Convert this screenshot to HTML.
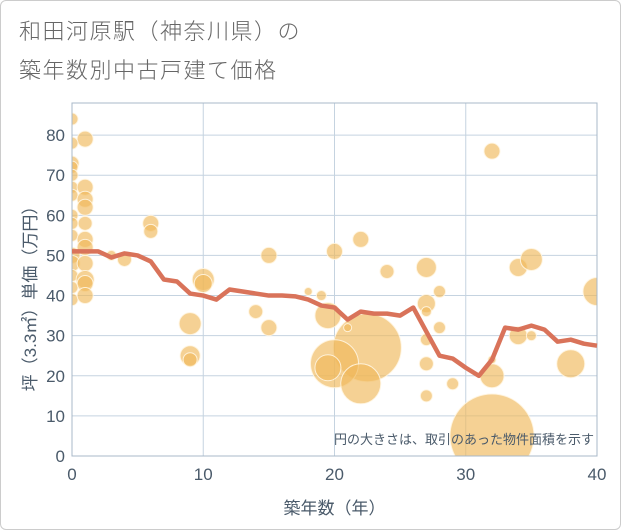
<!DOCTYPE html>
<html><head><meta charset="utf-8"><style>
body{margin:0;background:#fff;font-family:"Liberation Sans","Noto Sans CJK JP",sans-serif}
#wrap{position:relative;width:619px;height:528px;border:1px solid #ccc;border-radius:6px;overflow:hidden}
.t{position:absolute;left:18px;color:#666;font-size:22px;letter-spacing:1.5px;font-weight:300}
</style></head><body>
<div id="wrap">
<div class="t" style="top:13px">和田河原駅（神奈川県）の</div>
<div class="t" style="top:52px">築年数別中古戸建て価格</div>
<svg id="c" width="621" height="530" style="position:absolute;left:-1px;top:-1px"><defs><clipPath id="pc"><rect x="72" y="103" width="525" height="353"/></clipPath></defs></svg>
</div>
<script>
const xTicks=[0,10,20,30,40];
const yTicks=[0,10,20,30,40,50,60,70,80];
const lineYears=[0,1,2,3,4,5,6,7,8,9,10,11,12,13,14,15,16,17,18,19,20,21,22,23,24,25,26,27,28,29,30,31,32,33,34,35,36,37,38,39,40];
const lineValues=[51,51,51,49.5,50.5,50,48.5,44,43.5,40.5,40,39,41.5,41,40.5,40,40,39.8,39,37.5,37,34,36,35.5,35.5,35,37,31,25,24.3,22,20,24,32,31.5,32.5,31.5,28.5,29,28,27.5];
const bubbleX=[32,22.5,20,22,19.5,19.5,20,22,24,27,27,27,28,28,27,27,27,29,32,34,35,34,35,32,32,38,40,18,19,21,15,14,15,10,10,9,9,9,6,6,4,3,1,0,0,0,0,0,0,0,0,0,0,0,0,0,0,0,1,1,1,1,1,1,1,1,1,1];
const bubbleY=[5,27,23,18,22,35,51,54,46,47,38,36,41,32,29,23,15,18,76,47,49,30,30,20,24,23,41,41,40,32,50,36,32,44,43,33,25,24,58,56,49,50,79,84,78,73,72,70,67,65,60,58,55,50,48,45,42,39,67,64,62,58,54,52,48,44,43,40];
const bubbleR=[42,34,24,20,13,13,8,8,7,10,9,5,6,6,6,7,6,6,8,9,11,9,5,12,4,14,14,4,5,4,8,7,8,11,9,11,10,7,8,7,7,5,8,6,6,7,6,6,6,6,6,6,6,8,8,6,6,6,8,8,8,7,8,8,8,9,8,8];
const L=72,R=597,B=456,T=103,yMax=88;
const sx=v=>L+(R-L)*v/40, sy=v=>B-(B-T)*v/yMax;
const svg=document.getElementById('c'),NS='http://www.w3.org/2000/svg';
function mk(tag,at,parent){const e=document.createElementNS(NS,tag);for(const k in at)e.setAttribute(k,at[k]);(parent||svg).appendChild(e);return e;}
yTicks.forEach(v=>{
 const g=mk('line',{x1:L,x2:R,y1:sy(v),y2:sy(v),stroke:'#c5d3e0','stroke-width':1});
 
 
 const t=mk('text',{x:L-7,y:sy(v)+6,'text-anchor':'end','font-size':17,fill:'#4a5a6a'});
 t.textContent=v;
 
 
});
xTicks.forEach(v=>{
 const g=mk('line',{x1:sx(v),x2:sx(v),y1:T,y2:B,stroke:'#c5d3e0','stroke-width':1});
 
 
 const t=mk('text',{x:sx(v),y:B+24,'text-anchor':'middle','font-size':17,fill:'#4a5a6a'});
 t.textContent=v;
 
 
});
const gB=mk('g',{'clip-path':'url(#pc)'});


bubbleX.forEach((x,i)=>{
 const c=mk('circle',{cx:sx(x),cy:sy(bubbleY[i]),r:bubbleR[i],fill:'rgba(240,185,90,0.65)',stroke:'rgba(255,245,225,0.9)','stroke-width':1},gB);
 
 
});
const fr=mk('rect',{x:L,y:T,width:R-L,height:B-T,fill:'none',stroke:'#a8b8c8'});


const p=mk('polyline',{points:lineYears.map((x,i)=>sx(x)+','+sy(lineValues[i])).join(' '),fill:'none',stroke:'#d9735a','stroke-width':4.5,'stroke-linejoin':'round'});


const n=mk('text',{x:R-3,y:B-12,'text-anchor':'end','font-size':13,fill:'#4a5a6a'});
n.textContent='円の大きさは、取引のあった物件面積を示す';


const xt=mk('text',{x:(L+R)/2,y:514,'text-anchor':'middle','font-size':17,fill:'#4a5a6a'});
xt.textContent='築年数（年）';


const yt=mk('text',{x:0,y:0,'text-anchor':'middle','font-size':17,fill:'#4a5a6a',transform:'translate(36,'+((T+B)/2+15)+') rotate(-90)'});
yt.textContent='坪（3.3㎡）単価（万円）';


</script>
</body></html>
